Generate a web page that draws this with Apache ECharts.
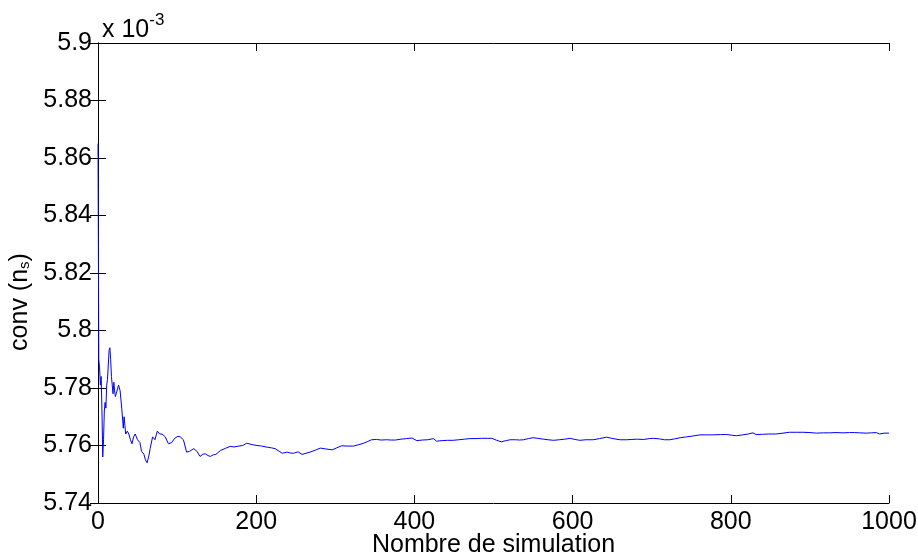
<!DOCTYPE html>
<html>
<head>
<meta charset="utf-8">
<script src="https://cdn.jsdelivr.net/npm/echarts@6/dist/echarts.min.js"></script>
<style>
html, body { margin: 0; padding: 0; background: #fff; }
#chart { width: 918px; height: 558px; }
</style>
</head>
<body>
<div id="chart"></div>
<script>
var myChart = echarts.init(document.getElementById('chart'));

// x : simulation number, y : convergence value (x 10^-3)
var simIndex = [
    0, 1, 2, 3, 4, 5, 6, 7, 8, 9, 10, 11, 12, 13, 14, 15, 16, 17, 18, 19,
    20, 21, 22, 23, 24, 26, 28, 30, 32, 33, 35, 37, 39, 41, 43, 45, 47, 50, 53, 55,
    58, 60, 62, 64, 66, 69, 72, 75, 78, 81, 85, 89, 93, 97, 101, 104, 108, 112, 116, 121,
    125, 129, 133, 136, 139, 142, 146, 149, 155, 161, 167, 172, 178, 183, 188, 195, 201, 207, 214, 219,
    224, 229, 233, 239, 243, 247, 253, 258, 263, 268, 275, 281, 288, 296, 302, 308, 315, 323, 330, 336,
    341, 346, 352, 358, 365, 370, 376, 383, 390, 397, 403, 410, 417, 424, 428, 435, 442, 449, 456, 463,
    470, 478, 485, 492, 498, 504, 510, 516, 521, 528, 533, 538, 544, 550, 556, 563, 569, 576, 583, 590,
    597, 603, 609, 617, 626, 634, 643, 651, 660, 668, 675, 681, 690, 697, 702, 710, 716, 723, 729, 736,
    744, 752, 761, 770, 778, 787, 795, 801, 807, 815, 822, 828, 832, 840, 848, 857, 866, 874, 883, 891,
    900, 908, 917, 925, 933, 942, 950, 956, 963, 971, 978, 984, 988, 994, 1000
];
var convValues = [
    5.865, 5.790, 5.787, 5.781, 5.784, 5.772, 5.756, 5.762, 5.772, 5.775, 5.773, 5.781, 5.783, 5.788, 5.793, 5.794, 5.790, 5.784, 5.781, 5.778,
    5.782, 5.779, 5.777, 5.778, 5.778, 5.781, 5.779, 5.773, 5.766, 5.770, 5.764, 5.765, 5.764, 5.762, 5.7606, 5.763, 5.764, 5.762, 5.761, 5.758,
    5.757, 5.755, 5.754, 5.756, 5.759, 5.763, 5.762, 5.765, 5.764, 5.764, 5.763, 5.7606, 5.761, 5.7625, 5.7632, 5.763, 5.762, 5.7577, 5.758, 5.7589,
    5.758, 5.7562, 5.757, 5.7571, 5.7565, 5.7562, 5.7568, 5.7569, 5.7583, 5.759, 5.7597, 5.7595, 5.7598, 5.760, 5.7608, 5.7603, 5.760, 5.7598, 5.7594, 5.7592,
    5.7589, 5.758, 5.7573, 5.7577, 5.7574, 5.7573, 5.7578, 5.7569, 5.7573, 5.7577, 5.7584, 5.7591, 5.7588, 5.7585, 5.7592, 5.7599, 5.7598, 5.7598, 5.7603, 5.7608,
    5.7614, 5.762, 5.7621, 5.7619, 5.762, 5.7619, 5.7619, 5.7622, 5.7624, 5.7626, 5.7617, 5.7619, 5.762, 5.7624, 5.7615, 5.7617, 5.7618, 5.7618, 5.762, 5.7622,
    5.7624, 5.7624, 5.7625, 5.7625, 5.7625, 5.7618, 5.7613, 5.7617, 5.762, 5.762, 5.7619, 5.762, 5.7624, 5.7627, 5.7625, 5.7622, 5.762, 5.7618, 5.762, 5.7622,
    5.7625, 5.7621, 5.7618, 5.762, 5.762, 5.7624, 5.7629, 5.7624, 5.762, 5.762, 5.7621, 5.7622, 5.7621, 5.7624, 5.7625, 5.7623, 5.762, 5.762, 5.7623, 5.7627,
    5.763, 5.7633, 5.7637, 5.7637, 5.7637, 5.7638, 5.7638, 5.7636, 5.7634, 5.7637, 5.764, 5.7644, 5.7638, 5.7639, 5.764, 5.764, 5.7643, 5.7646, 5.7646, 5.7646,
    5.7645, 5.7643, 5.7644, 5.7644, 5.7645, 5.7644, 5.7645, 5.7645, 5.7644, 5.7643, 5.7644, 5.7645, 5.764, 5.7643, 5.7643
];

var seriesData = simIndex.map(function (n, i) {
    return [n, convValues[i]];
});

var font = 'Liberation Sans, Arial, Helvetica, sans-serif';
var yFmt = function (v) {
    return String(parseFloat(v.toFixed(2)));
};
var xFmt = function (v) {
    return String(v);
};

var option = {
    animation: false,
    backgroundColor: '#fff',
    title: {
        text: '{b|x 10}{s|-3}',
        left: 97,
        top: 6,
        textStyle: {
            fontWeight: 'normal',
            rich: {
                b: { fontFamily: font, fontSize: 25, fontWeight: 'normal', color: '#000', lineHeight: 30, padding: [8, 0, 0, 0] },
                s: { fontFamily: font, fontSize: 17, fontWeight: 'normal', color: '#000', lineHeight: 30, padding: [0, 0, 12, 0] }
            }
        }
    },
    grid: {
        left: 98,
        right: 29,
        top: 43,
        bottom: 55,
        containLabel: false,
        outerBoundsMode: 'none'
    },
    xAxis: [
        {
            type: 'value',
            min: 0,
            max: 1000,
            interval: 200,
            name: 'Nombre de simulation',
            nameLocation: 'middle',
            nameGap: 30,
            nameMoveOverlap: false,
            nameTextStyle: { fontFamily: font, fontSize: 25, color: '#000' },
            axisLine: { show: true, lineStyle: { color: '#000', width: 1 } },
            axisTick: { show: true, inside: true, length: 8, lineStyle: { color: '#000' } },
            axisLabel: { fontFamily: font, fontSize: 25, color: '#000', margin: 7, formatter: xFmt },
            splitLine: { show: false }
        },
        {
            type: 'value',
            position: 'top',
            min: 0,
            max: 1000,
            interval: 200,
            axisLine: { show: true, lineStyle: { color: '#000', width: 1 } },
            axisTick: { show: true, inside: true, length: 8, lineStyle: { color: '#000' } },
            axisLabel: { show: false },
            splitLine: { show: false }
        }
    ],
    yAxis: [
        {
            type: 'value',
            min: 5.74,
            max: 5.9,
            interval: 0.02,
            name: '{n|conv (n}{s|s}{n|)}',
            nameLocation: 'middle',
            nameGap: 64,
            nameTextStyle: {
                padding: [0, 58, 0, 0],
                rich: {
                    n: { fontFamily: font, fontSize: 25, color: '#000' },
                    s: { fontFamily: font, fontSize: 15, color: '#000', padding: [10, 0, 0, 0] }
                }
            },
            axisLine: { show: true, lineStyle: { color: '#000', width: 1 } },
            axisTick: { show: true, inside: true, length: 8, lineStyle: { color: '#000' } },
            axisLabel: { fontFamily: font, fontSize: 25, color: '#000', margin: 6, formatter: yFmt },
            splitLine: { show: false }
        },
        {
            type: 'value',
            position: 'right',
            min: 5.74,
            max: 5.9,
            interval: 0.02,
            axisLine: { show: true, lineStyle: { color: '#000', width: 1 } },
            axisTick: { show: true, inside: true, length: 8, lineStyle: { color: '#000' } },
            axisLabel: { show: false },
            splitLine: { show: false }
        }
    ],
    series: [
        {
            name: 'conv',
            type: 'line',
            data: seriesData,
            showSymbol: false,
            symbol: 'none',
            lineStyle: { color: '#0000ff', width: 1 },
            itemStyle: { color: '#0000ff' }
        }
    ]
};
myChart.setOption(option);
</script>
</body>
</html>
